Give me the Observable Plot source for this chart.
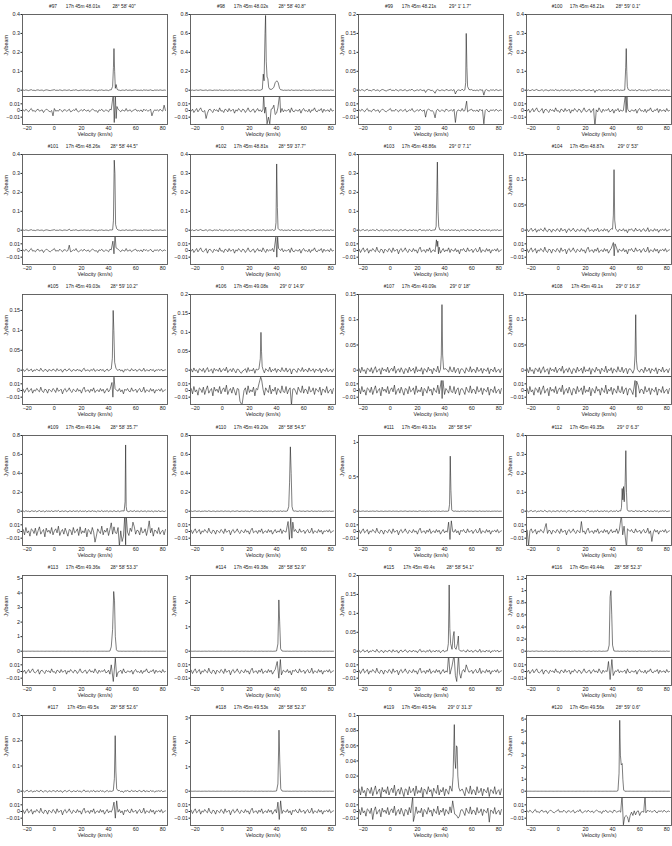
<!DOCTYPE html>
<html><head><meta charset="utf-8">
<script src="https://cdn.jsdelivr.net/npm/d3@7"></script>
<script src="https://cdn.jsdelivr.net/npm/@observablehq/plot@0.6"></script>
<style>
body{margin:0;background:#fff;}
#root{position:relative;width:672px;height:846px;overflow:hidden;background:#fff;}
#root svg{position:absolute;}
</style></head><body><div id="root"></div>
<script>
// ---------- data ----------
const velocityDomain = [-23.5, 83.5];
const velocityTicks = [-20, 0, 20, 40, 60, 80];
const noiseStart = -23; // km/s of first noise sample, 1 km/s spacing
// baseline noise read (roughly) from the residual panels, in mJy/beam
const noiseA = [1,-1,2,0,-2,1,3,-1,0,-2, 1,2,-1,0,1,-3,0,2,1,-1, -2,0,1,3,-1,0,-1,2,0,-2, 1,1,-1,0,2,-2,-1,1,0,3, -1,-2,0,1,-1,2,0,-1,1,-2, 0,2,1,-1,0,-3,1,0,2,-1, -1,1,0,-2,2,1,-1,0,1,-1, 2,0,-2,1,0,-1,3,-1,0,1, -2,0,1,2,-1,0,-1,1,-2,2, 0,1,-1,0,2,-1,-2,1,0,1, -1,2,0,-1,1,0];
const noiseB = [2,-3,1,4,-2,0,3,-4,1,-1, 3,0,-2,5,-1,-3,2,1,-4,2, 0,-2,3,1,-3,4,-1,0,2,-5, 1,3,-2,0,4,-1,-3,2,0,-2, 3,-1,1,-4,2,5,-2,0,1,-3, 2,-1,4,-3,0,1,-2,3,-1,2, -4,0,3,-2,1,-1,4,-3,2,0, -1,3,-2,1,-5,2,0,3,-1,-2, 4,-1,0,2,-3,1,3,-2,-1,5, -3,1,0,-2,3,-1,2,-4,1,0, 2,-1,3,-2,0,1];
const noiseC = [3,-5,6,-2,1,-7,4,2,-3,5, -6,1,7,-4,0,3,-8,5,-1,2, -3,6,-5,1,4,-2,8,-6,0,3, -4,5,-1,-7,3,2,-5,6,-2,0, 4,-6,7,-3,1,-2,5,-8,3,1, -4,6,-1,2,-7,4,0,-3,8,-5, 2,-1,5,-6,3,0,-4,7,-2,-3, 6,-5,1,4,-7,2,3,-1,-6,5, 0,-3,7,-4,2,1,-5,6,-2,-1, 4,-6,3,0,-2,5,-7,2,1,-3, 6,-4,0,2,-5,3];
const noiseD = [-1,2,-3,0,3,-2,1,4,-1,-2, 0,3,-4,1,2,-1,-3,2,0,1, -2,4,-1,0,-3,2,1,-2,3,-1, 0,2,-4,1,-1,3,0,-2,2,1, -3,0,4,-1,-2,1,2,-3,0,3, -1,1,-2,4,0,-3,2,-1,1,0, 3,-2,-1,2,-4,1,0,3,-2,1, -1,0,2,-3,4,-1,-2,1,0,-1, 2,-4,1,3,-1,0,-2,2,-3,1, 0,4,-1,-2,1,0,3,-3,2,-1, 0,1,-2,3,-1,0];

const panelIds = ["#97","#98","#99","#100","#101","#102","#103","#104","#105","#106","#107","#108",
  "#109","#110","#111","#112","#113","#114","#115","#116","#117","#118","#119","#120"];
const panelRA = ["17h 45m 48.01s","17h 45m 48.02s","17h 45m 48.21s","17h 45m 48.21s",
  "17h 45m 48.26s","17h 45m 48.81s","17h 45m 48.86s","17h 45m 48.87s",
  "17h 45m 49.03s","17h 45m 49.08s","17h 45m 49.09s","17h 45m 49.1s",
  "17h 45m 49.14s","17h 45m 49.20s","17h 45m 49.31s","17h 45m 49.35s",
  "17h 45m 49.36s","17h 45m 49.38s","17h 45m 49.4s","17h 45m 49.44s",
  "17h 45m 49.5s","17h 45m 49.53s","17h 45m 49.54s","17h 45m 49.56s"];
const panelDec = ["28° 58′ 40″","28° 58′ 40.8″","29° 1′ 1.7″","28° 59′ 0.1″",
  "28° 58′ 44.5″","28° 59′ 37.7″","29° 0′ 7.1″","29° 0′ 53″",
  "28° 59′ 10.2″","29° 0′ 14.9″","29° 0′ 18″","29° 0′ 16.3″",
  "28° 58′ 35.7″","28° 58′ 54.5″","28° 58′ 54″","29° 0′ 6.3″",
  "28° 58′ 53.3″","28° 58′ 52.9″","28° 58′ 54.1″","28° 58′ 52.3″",
  "28° 58′ 52.6″","28° 58′ 52.3″","29° 0′ 31.3″","28° 59′ 0.6″"];
const yMax = [0.4,0.8,0.2,0.4, 0.4,0.4,0.4,0.15, 0.19,0.2,0.15,0.15, 0.8,0.8,1.1,0.4, 5.2,3.1,0.2,1.25, 0.3,3.1,0.1,6.3];
const yTicks = [
  [0,0.1,0.2,0.3,0.4],[0,0.2,0.4,0.6,0.8],[0,0.05,0.1,0.15,0.2],[0,0.1,0.2,0.3,0.4],
  [0,0.1,0.2,0.3,0.4],[0,0.1,0.2,0.3,0.4],[0,0.1,0.2,0.3,0.4],[0,0.05,0.1,0.15],
  [0,0.05,0.1,0.15],[0,0.05,0.1,0.15,0.2],[0,0.05,0.1,0.15],[0,0.05,0.1,0.15],
  [0,0.2,0.4,0.6,0.8],[0,0.2,0.4,0.6,0.8],[0,0.5,1],[0,0.1,0.2,0.3,0.4],
  [0,1,2,3,4,5],[0,1,2,3],[0,0.05,0.1,0.15,0.2],[0,0.2,0.4,0.6,0.8,1,1.2],
  [0,0.1,0.2,0.3],[0,1,2,3],[0,0.02,0.04,0.06,0.08,0.1],[0,1,2,3,4,5,6]];
const noiseChoice = ["A","D","A","D", "A","D","B","B", "B","C","C","C", "C","B","B","B", "D","B","B","D", "B","B","C","A"];
// spectral features [velocity km/s, Jy/beam]
const spectrumFeatures = [
  [[42,0.002],[43,0.02],[43.6,0.12],[44,0.22],[44.5,0.1],[45,0.01],[45.6,0.03],[46.3,0.005],[47,0.001]],
  [[28,0],[29.5,0.01],[30.2,0.17],[30.8,0.1],[31.5,0.6],[31.9,0.79],[32.4,0.3],[33,0.14],[33.6,0.12],[34.2,0.03],[35,0.01],[36.5,0.01],[38,0.03],[39,0.08],[40.2,0.1],[41.2,0.08],[42.2,0.02],[43,0.005]],
  [[26,-0.006],[33,-0.008],[48,-0.01],[55,0.001],[55.6,0.02],[56,0.15],[56.5,0.06],[57,0.01],[58,0.002],[69,-0.013]],
  [[27,-0.012],[49,0.001],[49.7,0.12],[50.1,0.22],[50.5,0.1],[50.9,0.02],[51.5,0.004]],
  [[11,0.006],[43,0.002],[43.6,0.05],[44.2,0.37],[44.7,0.3],[45.2,0.03],[46,0.008],[47,0.001]],
  [[39,0.002],[39.6,0.04],[40.1,0.35],[40.6,0.12],[41.1,0.01],[42,0.002]],
  [[33,0.001],[33.8,0.02],[34.3,0.2],[34.7,0.36],[35.2,0.1],[35.7,0.02],[36.5,0.002]],
  [[40,0.002],[40.6,0.03],[41.1,0.12],[41.6,0.02],[42.3,0.003]],
  [[42,0.003],[42.8,0.03],[43.4,0.15],[43.9,0.1],[44.5,0.02],[45.5,0.004]],
  [[14,-0.008],[27,0.003],[28,0.03],[28.5,0.1],[28.9,0.05],[29.4,0.01],[30,0.002],[51,-0.01]],
  [[37,0.002],[37.6,0.03],[38.1,0.13],[38.6,0.03],[39.3,0.002]],
  [[56,0.002],[56.6,0.03],[57.1,0.11],[57.6,0.02],[58.3,0.002]],
  [[51.5,0.002],[52.2,0.1],[52.6,0.7],[53,0.05],[53.5,0.003]],
  [[48,0.003],[49,0.05],[49.6,0.3],[50.2,0.68],[50.8,0.4],[51.4,0.05],[52.2,0.005]],
  [[43,0.003],[43.7,0.1],[44.2,0.8],[44.7,0.3],[45.3,0.02],[46,0.003]],
  [[46,0.001],[46.6,0.02],[47.1,0.12],[47.6,0.06],[48.1,0.13],[48.6,0.05],[49.3,0.15],[49.8,0.32],[50.3,0.1],[50.8,0.01],[51.5,0.001]],
  [[41,0.01],[42,0.3],[43,1.5],[43.8,4.1],[44.4,3.5],[45,1],[45.8,0.1],[46.6,0.01]],
  [[40,0.01],[41,0.3],[41.7,2.1],[42.3,1.2],[43,0.1],[44,0.01]],
  [[42,0.001],[42.8,0.02],[43.4,0.175],[43.9,0.06],[44.5,0.02],[45.5,0.005],[46.4,0.04],[47,0.052],[47.5,0.01],[48.5,0.005],[49.5,0.02],[50.2,0.04],[50.6,0.005],[51.5,0.001]],
  [[36.5,0.005],[37.5,0.1],[38.2,0.9],[38.8,1.0],[39.4,0.6],[40,0.1],[41,0.005]],
  [[43.5,0.002],[44.3,0.05],[44.9,0.22],[45.4,0.08],[46,0.01],[47,0.002]],
  [[40,0.01],[41,0.3],[41.8,2.5],[42.4,1.2],[43.1,0.1],[44,0.01]],
  [[45.5,0],[46.3,0.02],[46.8,0.06],[47.2,0.088],[47.7,0.04],[48.2,0.03],[48.8,0.06],[49.3,0.058],[49.8,0.02],[50.5,0.005],[51.5,0]],
  [[43,0],[44,0.05],[44.8,1.5],[45.3,5.9],[45.8,3],[46.4,2.2],[47.1,2.3],[47.6,1],[48.2,0.1],[49,0]]];
// residual features [velocity km/s, mJy/beam]
const residualFeatures = [
  [[-1,-8],[43.5,25],[44.2,-18],[45,25],[45.6,-12],[46.2,6],[72,-8],[81,8]],
  [[-12,-12],[30,2],[30.5,25],[31.2,-4],[32,5],[33,-20],[34,-10],[35,-20],[36,2],[38,8],[39,-6],[40,-4],[41,4],[42.3,25],[43,-3]],
  [[26,-10],[33,-11],[48,-18],[56.3,14],[57,-2],[69,-20]],
  [[27,-25],[49.5,25],[50,-3],[50.6,25],[51.2,2]],
  [[11,8],[43.2,14],[44,-5],[44.8,25],[45.5,4]],
  [[39.5,20],[40.2,-10],[40.8,20],[41.5,3]],
  [[34,16],[34.5,6],[35,14],[35.5,-5],[36,5]],
  [[40.6,12],[41.2,-8],[41.8,10]],
  [[42.5,12],[43.2,-10],[44,20],[44.8,3]],
  [[13,-16],[14.5,-22],[27,10],[28.3,20],[29,16],[30,2],[51,-22]],
  [[37.6,15],[38.2,-12],[38.8,15]],
  [[56.6,15],[57.2,-10],[57.8,14]],
  [[30,-16],[42,13],[48,-22],[50,-15],[52,25],[52.6,-20],[53,25],[58,14],[70,16]],
  [[48.5,15],[49.5,-12],[50.5,20],[51.3,-10],[52,14]],
  [[43,14],[44,-12],[45,16]],
  [[-22,-22],[-9,12],[17,15],[46.5,25],[47.5,-5],[48.5,8],[50.3,-25],[51,4],[69,-15]],
  [[42,10],[43.5,-15],[45,20],[46,-8]],
  [[40.5,15],[41.7,-10],[42.8,18],[43.6,-5]],
  [[43,25],[44,-4],[45.5,8],[47,25],[48,-6],[49,-15],[50.3,25],[51,-2],[52,-10],[56,10]],
  [[37,15],[38.2,-12],[39.5,18],[40.5,-6]],
  [[44,14],[45,-10],[46,16]],
  [[41,14],[42,-12],[43,16]],
  [[-13,-12],[16.5,22],[17,-15],[46,16],[47.5,-4],[49,-6],[50,-10],[73,-16]],
  [[47,25],[48,-20],[49,-8],[50,-6],[51,-8],[52,-16],[53,-6],[55,-6],[57,-5],[60,-6],[64,25],[64.6,-2]]];
const residualTicks = [-10, 0, 10];

// ---------- drawing ----------
const noiseSets = {A: noiseA, B: noiseB, C: noiseC, D: noiseD};
function series(noise, features, unit) {
  const pts = noise.map((n, i) => ({v: noiseStart + i, y: n * unit}))
    .filter(p => !features.some(f => Math.abs(f[0] - p.v) < 0.75));
  features.forEach(f => pts.push({v: f[0], y: f[1]}));
  return pts.sort((a, b) => a.v - b.v);
}
const fmt = d => d === 0 ? "0" : (d < 0 ? "\u2212" : "") + String(+Math.abs(d).toFixed(3));
const style = {fontFamily: "Liberation Sans, Arial, sans-serif", fontSize: "5.4px", background: "transparent", overflow: "visible", color: "#222"};
const root = document.getElementById("root");
const W = 168, ML = 22, MR = 1;
panelIds.forEach((id, i) => {
  const col = i % 4, row = Math.floor(i / 4);
  const left = col * 168, top = row * 140.2;
  const noise = noiseSets[noiseChoice[i]];
  const spec = series(noise, spectrumFeatures[i], 0.001);
  const res = series(noise, residualFeatures[i], 1);
  const ym = yMax[i];
  const p1 = Plot.plot({
    width: W, height: 82, marginLeft: ML, marginRight: MR, marginTop: 0, marginBottom: 0,
    style,
    x: {domain: velocityDomain, axis: null},
    y: {domain: [-0.083 * ym, ym], ticks: yTicks[i], tickFormat: fmt, tickSize: 1.5, tickPadding: 1, label: null},
    marks: [
      Plot.line(spec, {x: "v", y: "y", stroke: "#111", strokeWidth: 0.55, clip: true}),
      Plot.frame({stroke: "#555", strokeWidth: 0.9}),
      Plot.text([id], {frameAnchor: "top", dx: -42, dy: -10, fontSize: 4.8, fill: "#222"}),
      Plot.text([panelRA[i]], {frameAnchor: "top", dx: -12, dy: -10, fontSize: 4.8, fill: "#222"}),
      Plot.text([panelDec[i]], {frameAnchor: "top", dx: 29, dy: -10, fontSize: 4.8, fill: "#222"}),
      Plot.text(["Jy/beam"], {frameAnchor: "left", dx: -16, rotate: -90, fontSize: 5.4, fill: "#222"})
    ]
  });
  p1.style.left = left + "px"; p1.style.top = (top + 14) + "px";
  root.appendChild(p1);
  const p2 = Plot.plot({
    width: W, height: 44, marginLeft: ML, marginRight: MR, marginTop: 0, marginBottom: 16,
    style,
    x: {domain: velocityDomain, ticks: velocityTicks, tickFormat: fmt, tickSize: 1, tickPadding: 1, label: null},
    y: {domain: [-21, 21], ticks: residualTicks, tickFormat: d => fmt(d / 1000), tickSize: 1.5, tickPadding: 1, label: null},
    marks: [
      Plot.line(res, {x: "v", y: "y", stroke: "#111", strokeWidth: 0.55, clip: true}),
      Plot.frame({stroke: "#555", strokeWidth: 0.9}),
      Plot.text(["Velocity (km/s)"], {frameAnchor: "bottom", dy: 11, fontSize: 5.4, fill: "#222"})
    ]
  });
  p2.style.left = left + "px"; p2.style.top = (top + 96) + "px";
  root.appendChild(p2);
});
</script></body></html>
